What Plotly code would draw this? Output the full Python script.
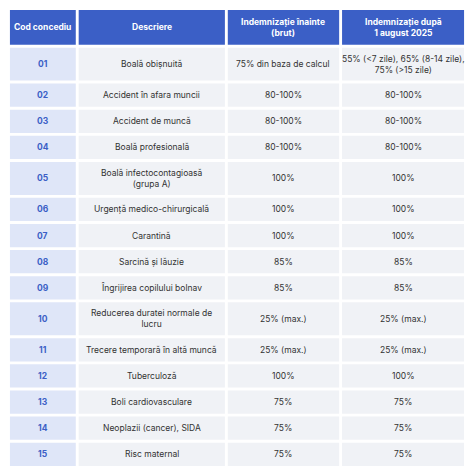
import plotly.graph_objects as go

headers = ["Cod concediu", "Descriere", "Indemnizație înainte<br>(brut)",
           "Indemnizație după<br>1 august 2025"]
codes = ["01", "02", "03", "04", "05", "06", "07", "08", "09", "10", "11", "12", "13", "14", "15"]
descriptions = ["Boală obișnuită", "Accident în afara muncii", "Accident de muncă",
                "Boală profesională", "Boală infectocontagioasă<br>(grupa A)",
                "Urgență medico-chirurgicală", "Carantină", "Sarcină și lăuzie",
                "Îngrijirea copilului bolnav", "Reducerea duratei normale de<br>lucru",
                "Trecere temporară în altă muncă", "Tuberculoză", "Boli cardiovasculare",
                "Neoplazii (cancer), SIDA", "Risc maternal"]
before = ["75% din baza de calcul", "80-100%", "80-100%", "80-100%", "100%", "100%", "100%",
          "85%", "85%", "25% (max.)", "25% (max.)", "100%", "75%", "75%", "75%"]
after = ["55% (<7 zile), 65% (8-14 zile),<br>75% (>15 zile)", "80-100%", "80-100%", "80-100%",
         "100%", "100%", "100%", "85%", "85%", "25% (max.)", "25% (max.)", "100%", "75%", "75%", "75%"]

blue = "#3b5fc6"
code_bg = "#dfe6f8"
cell_bg = "#f0f2f6"
FONT = "Inter"

# layout geometry (pixels of the original)
col_edges = [(3, 71), (74, 225), (228, 343), (346, 472)]
gap = 3

fig = go.Figure()
shapes, annos = [], []

def add_cell(x0, x1, y0, y1, fill, text, color, bold=False):
    shapes.append(dict(type="rect", x0=x0, x1=x1, y0=y0, y1=y1, fillcolor=fill,
                       line=dict(width=0), layer="below"))
    annos.append(dict(x=(x0 + x1) / 2, y=(y0 + y1) / 2, text="<b>%s</b>" % text if bold else text,
                      showarrow=False, font=dict(color=color, size=8.5, family=FONT),
                      xanchor="center", yanchor="middle", align="center"))

y = 3
h = 36
for (x0, x1), t in zip(col_edges, headers):
    add_cell(x0, x1, y, y + h, blue, t, "white", bold=True)
y += h + gap

for row in zip(codes, descriptions, before, after):
    lines = max(r.count("<br>") + 1 for r in row)
    h = 24 if lines == 1 else 34
    fills = [code_bg, cell_bg, cell_bg, cell_bg]
    colors = [blue, "#333333", "#333333", "#333333"]
    for i, ((x0, x1), t) in enumerate(zip(col_edges, row)):
        add_cell(x0, x1, y, y + h, fills[i], t, colors[i], bold=(i == 0))
    y += h + gap

fig.update_layout(width=458, height=458, margin=dict(l=0, r=0, t=0, b=0),
                  paper_bgcolor="white", plot_bgcolor="white",
                  shapes=shapes, annotations=annos, showlegend=False,
                  xaxis=dict(range=[1, 474], visible=False, fixedrange=True),
                  yaxis=dict(range=[474, 1], visible=False, fixedrange=True))
fig.write_html("out.html")
